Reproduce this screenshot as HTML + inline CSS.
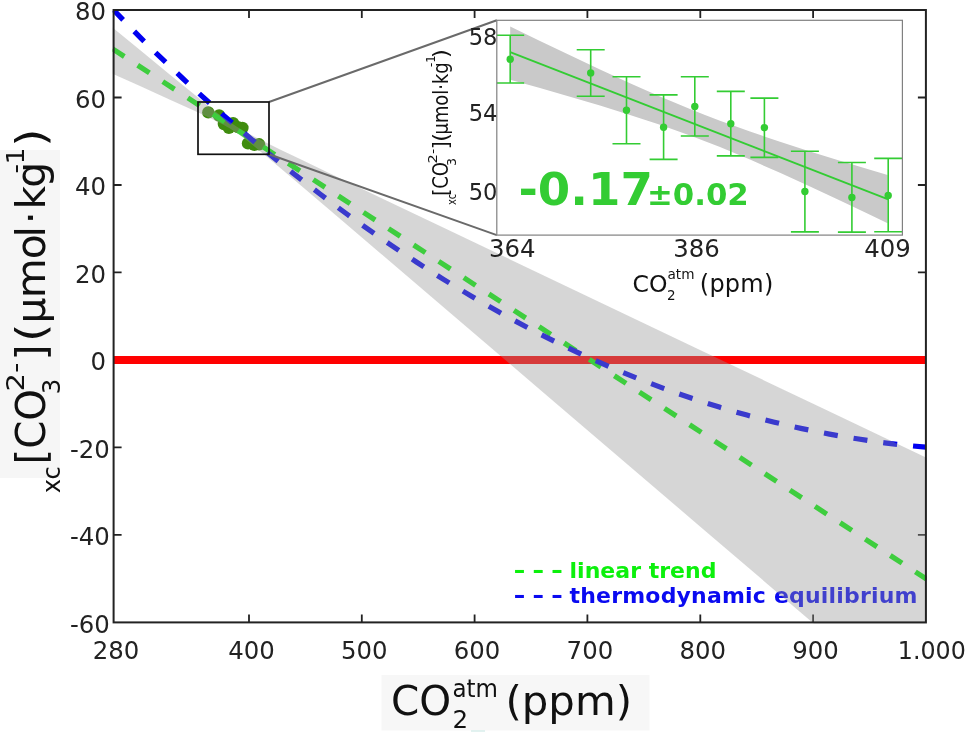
<!DOCTYPE html>
<html lang="en"><head><meta charset="utf-8"><title>CO3 trend versus atmospheric CO2</title>
<style>
html,body{margin:0;padding:0;background:#fff;}
body{width:968px;height:734px;overflow:hidden;}
svg{display:block;will-change:transform;}
text{font-family:"DejaVu Sans", "Liberation Sans", sans-serif;fill:#222;}
.b{font-weight:bold;}
</style></head><body>
<svg width="968" height="734" viewBox="0 0 968 734">
<rect width="968" height="734" fill="#ffffff"/>
<rect x="0" y="150" width="60" height="328" fill="#f6f6f6"/>
<rect x="381.5" y="675" width="268" height="55.5" fill="#f7f7f7"/>
<rect x="471" y="730.4" width="14" height="1.2" fill="#cfe9e6"/>
<defs><clipPath id="cm"><rect x="112.6" y="9.0" width="814.3" height="614.4"/></clipPath>
<clipPath id="ci"><rect x="496.8" y="20.3" width="405.6" height="214.8"/></clipPath></defs>
<path d="M249.0,622.4 v-8 M249.0,10.0 v8 M361.8,622.4 v-8 M361.8,10.0 v8 M474.6,622.4 v-8 M474.6,10.0 v8 M587.4,622.4 v-8 M587.4,10.0 v8 M700.3,622.4 v-8 M700.3,10.0 v8 M813.1,622.4 v-8 M813.1,10.0 v8 M113.6,97.5 h8 M925.9,97.5 h-8 M113.6,185.0 h8 M925.9,185.0 h-8 M113.6,272.4 h8 M925.9,272.4 h-8 M113.6,359.9 h8 M925.9,359.9 h-8 M113.6,447.4 h8 M925.9,447.4 h-8 M113.6,534.9 h8 M925.9,534.9 h-8" stroke="#222" stroke-width="1.8" fill="none"/>
<rect x="113.6" y="356" width="812.3" height="8" fill="#ff0000"/>
<g fill="#3f8c0e">
<circle cx="208.3" cy="112.4" r="6.2"/>
<circle cx="219.1" cy="115.5" r="6.2"/>
<circle cx="223.9" cy="124.0" r="6.2"/>
<circle cx="228.9" cy="127.9" r="6.2"/>
<circle cx="233.1" cy="123.2" r="6.2"/>
<circle cx="237.9" cy="127.1" r="6.2"/>
<circle cx="242.4" cy="128.0" r="6.2"/>
<circle cx="248.0" cy="143.4" r="6.2"/>
<circle cx="254.3" cy="144.8" r="6.2"/>
<circle cx="259.1" cy="144.3" r="6.2"/>
</g>
<path clip-path="url(#cm)" d="M112.6,48.9 L926.9,579.3" stroke="#08f008" stroke-width="5.2" stroke-dasharray="14 15.94" fill="none"/>
<g clip-path="url(#cm)" fill="none" stroke-width="5.2" stroke-dasharray="14 16">
<path d="M113.4,9.8 L127.2,24.1 L140.9,38.1 L154.7,51.7 L168.5,65.0 L182.3,78.0 L196.0,90.7 L209.8,103.2 L223.6,115.4 L237.3,127.3 L251.1,139.0 L264.9,150.4 L278.7,161.7 L292.4,172.7 L306.2,183.4 L320.0,194.0 L333.7,204.4 L347.5,214.5 L361.3,224.4 L375.1,234.1 L388.8,243.6 L402.6,252.9 L416.4,262.0 L430.1,270.9 L443.9,279.6 L457.7,288.0 L471.5,296.2 L485.2,304.3 L499.0,312.1 L512.8,319.7 L526.5,327.0 L540.3,334.2 L554.1,341.1 L567.8,347.8 L581.6,354.3 L595.4,360.6 L609.2,366.6 L622.9,372.4 L636.7,378.1 L650.5,383.4 L664.2,388.6 L678.0,393.6 L691.8,398.3 L705.6,402.8 L719.3,407.1 L733.1,411.2 L746.9,415.1 L760.6,418.8 L774.4,422.2 L788.2,425.5 L802.0,428.6 L815.7,431.4 L829.5,434.1 L843.3,436.6 L857.0,438.8 L870.8,440.9 L884.6,442.8 L898.4,444.5 L912.1,445.9 L925.9,447.2" stroke="#0000f0"/>
</g>
<g class="b" font-size="22" font-weight="bold">
<text y="578.2" fill="#0cf00c" style="fill:#0cf00c"><tspan x="513.6" textLength="12" lengthAdjust="spacingAndGlyphs">-</tspan><tspan x="532.3" textLength="12" lengthAdjust="spacingAndGlyphs">-</tspan><tspan x="551" textLength="12" lengthAdjust="spacingAndGlyphs">-</tspan><tspan x="569.5" textLength="147">linear trend</tspan></text>
<text y="603.3" style="fill:#0a0af0"><tspan x="513.6" textLength="12" lengthAdjust="spacingAndGlyphs">-</tspan><tspan x="532.3" textLength="12" lengthAdjust="spacingAndGlyphs">-</tspan><tspan x="551" textLength="12" lengthAdjust="spacingAndGlyphs">-</tspan><tspan x="569.5" textLength="348">thermodynamic equilibrium</tspan></text>
</g>
<polygon clip-path="url(#cm)" points="112.5,27.4 140.0,50.1 170.0,74.7 195.0,95.1 210.0,107.2 222.0,116.5 230.0,122.3 238.0,127.5 246.0,132.2 255.0,136.9 265.0,142.0 280.0,149.4 300.0,159.0 330.0,173.5 380.0,197.4 450.0,230.8 550.0,278.4 700.0,349.9 830.0,411.8 927.0,458.0 927.0,720.4 830.0,637.5 700.0,526.4 550.0,398.2 450.0,312.7 380.0,252.9 330.0,210.3 300.0,184.7 280.0,167.8 265.0,155.2 255.0,146.9 246.0,139.7 238.0,133.7 230.0,128.5 222.0,124.1 210.0,118.1 195.0,111.1 170.0,99.7 140.0,86.1 112.5,73.8" fill="#969696" fill-opacity="0.39"/>
<rect x="113.6" y="10.0" width="812.3" height="612.4" fill="none" stroke="#222" stroke-width="2"/>
<path d="M269.0,102.0 L496.8,20.3 M269.0,154.3 L496.8,235.1" stroke="#6a6a6a" stroke-width="2" fill="none"/>
<rect x="198.0" y="102.0" width="71.0" height="52.3" fill="none" stroke="#111" stroke-width="1.7"/>
<rect x="496.8" y="20.3" width="405.6" height="214.8" fill="#ffffff"/>
<g clip-path="url(#ci)">
<polygon points="510.2,26.6 540.0,41.0 570.0,55.3 600.0,69.5 630.0,83.2 660.0,96.5 690.0,109.0 705.0,115.0 720.0,120.7 750.0,131.6 780.0,141.8 810.0,151.5 840.0,160.8 870.0,169.8 887.6,175.1 887.6,223.2 870.0,214.8 840.0,200.5 810.0,186.5 780.0,172.8 750.0,159.6 720.0,147.1 705.0,141.2 690.0,135.4 660.0,124.8 630.0,114.9 600.0,105.6 570.0,96.7 540.0,88.1 510.2,79.7" fill="#c9c9c9"/>
<path d="M510.2,52.1 L888.2,199.4" stroke="#33cc33" stroke-width="1.9" fill="none"/>
<path d="M510.2,35.3 V83.0 M496.2,35.3 h28 M496.2,83.0 h28 M590.7,49.8 V96.3 M576.7,49.8 h28 M576.7,96.3 h28 M626.5,76.7 V143.8 M612.5,76.7 h28 M612.5,143.8 h28 M663.6,94.9 V159.4 M649.6,94.9 h28 M649.6,159.4 h28 M694.8,76.8 V136.0 M680.8,76.8 h28 M680.8,136.0 h28 M730.8,91.4 V155.9 M716.8,91.4 h28 M716.8,155.9 h28 M764.4,98.1 V157.4 M750.4,98.1 h28 M750.4,157.4 h28 M804.9,151.2 V231.9 M790.9,151.2 h28 M790.9,231.9 h28 M851.9,162.5 V232.1 M837.9,162.5 h28 M837.9,232.1 h28 M888.2,158.4 V231.7 M874.2,158.4 h28 M874.2,231.7 h28" stroke="#33cc33" stroke-width="1.6" fill="none"/>
<g fill="#33cc33">
<circle cx="510.2" cy="59.3" r="3.7"/>
<circle cx="590.7" cy="72.9" r="3.7"/>
<circle cx="626.5" cy="110.2" r="3.7"/>
<circle cx="663.6" cy="127.3" r="3.7"/>
<circle cx="694.8" cy="106.5" r="3.7"/>
<circle cx="730.8" cy="123.8" r="3.7"/>
<circle cx="764.4" cy="127.6" r="3.7"/>
<circle cx="804.9" cy="191.5" r="3.7"/>
<circle cx="851.9" cy="197.5" r="3.7"/>
<circle cx="888.2" cy="195.4" r="3.7"/>
</g></g>
<rect x="496.8" y="20.3" width="405.6" height="214.8" fill="none" stroke="#808080" stroke-width="1.2"/>
<text class="b" y="205" style="fill:#33cc33" font-weight="bold"><tspan x="518.5" font-size="44.6" textLength="134.5" lengthAdjust="spacingAndGlyphs">-0.17</tspan><tspan x="647" font-size="30.8">±0.02</tspan></text>
<g font-size="24.4" text-anchor="end">
<text x="106" y="20.4">80</text>
<text x="106" y="107.9">60</text>
<text x="106" y="195.4">40</text>
<text x="106" y="282.8">20</text>
<text x="106" y="370.3">0</text>
<text x="109.8" y="457.8">-20</text>
<text x="109.8" y="545.3">-40</text>
<text x="109.8" y="632.8">-60</text>
</g>
<g font-size="24.4" text-anchor="middle">
<text x="116.1" y="659.2">280</text>
<text x="251.5" y="659.2">400</text>
<text x="364.3" y="659.2">500</text>
<text x="477.1" y="659.2">600</text>
<text x="589.9" y="659.2">700</text>
<text x="702.8" y="659.2">800</text>
<text x="815.6" y="659.2">900</text>
<text x="931.8" y="658.5" textLength="68" lengthAdjust="spacingAndGlyphs">1.000</text>
</g>
<g font-size="22.6" text-anchor="end">
<text x="497.4" y="45.1">58</text>
<text x="497.4" y="120.5">54</text>
<text x="497.4" y="200.1">50</text>
</g>
<g font-size="24.4" text-anchor="middle">
<text x="512.3" y="257.2">364</text>
<text x="696.6" y="257.2">386</text>
<text x="887.5" y="257.2">409</text>
</g>
<text x="391" y="714.5" font-size="40.5" style="fill:#111">CO</text>
<text x="452.5" y="727.6" font-size="24.5" style="fill:#111">2</text>
<text x="452.5" y="696.5" font-size="24.5" style="fill:#111" textLength="45.5" lengthAdjust="spacingAndGlyphs">atm</text>
<text x="505.5" y="714.5" font-size="40.5" style="fill:#111" textLength="126.5" lengthAdjust="spacingAndGlyphs">(ppm)</text>
<text x="632.5" y="291.6" font-size="23.5" style="fill:#111">CO</text>
<text x="667" y="299.5" font-size="13.5" style="fill:#111">2</text>
<text x="667.5" y="279.3" font-size="14.8" style="fill:#111" textLength="27" lengthAdjust="spacingAndGlyphs">atm</text>
<text x="699.8" y="291.6" font-size="24" style="fill:#111" textLength="73.5">(ppm)</text>
<text transform="translate(60.3,493.2) rotate(-90)" font-size="24" textLength="27" lengthAdjust="spacingAndGlyphs" style="fill:#111">xc</text>
<text transform="translate(44.7,464.5) rotate(-90)" font-size="41" textLength="75.5" lengthAdjust="spacingAndGlyphs" style="fill:#111">[CO</text>
<text transform="translate(60.3,394.2) rotate(-90)" font-size="24.5" style="fill:#111">3</text>
<text transform="translate(24.3,391.5) rotate(-90)" font-size="24.5" textLength="29" lengthAdjust="spacingAndGlyphs" style="fill:#111">2-</text>
<text transform="translate(44.7,360.4) rotate(-90)" font-size="41" style="fill:#111">]</text>
<text transform="translate(44.7,341.9) rotate(-90)" font-size="41" textLength="18.4" lengthAdjust="spacingAndGlyphs" style="fill:#111">(</text>
<text transform="translate(44.7,323.6) rotate(-90)" font-size="41" style="fill:#111" dx="0 -0.8 -0.9 -3.4 2 1.5 -1.8">µmol·kg</text>
<text transform="translate(24.3,173.6) rotate(-90)" font-size="24.5" textLength="26" lengthAdjust="spacingAndGlyphs" style="fill:#111">-1</text>
<text transform="translate(44.7,146.7) rotate(-90)" font-size="41" textLength="18.4" lengthAdjust="spacingAndGlyphs" style="fill:#111">)</text>
<text transform="translate(456.3,204.9) rotate(-90)" font-size="12.5" textLength="11.1" lengthAdjust="spacingAndGlyphs" style="fill:#111">xc</text>
<text transform="translate(448.2,195.8) rotate(-90)" font-size="20.5" textLength="33.9" lengthAdjust="spacingAndGlyphs" style="fill:#111">[CO</text>
<text transform="translate(456.3,166) rotate(-90)" font-size="12.5" style="fill:#111">3</text>
<text transform="translate(437.3,163.4) rotate(-90)" font-size="12.5" textLength="14.7" lengthAdjust="spacingAndGlyphs" style="fill:#111">2-</text>
<text transform="translate(448.2,149.2) rotate(-90)" font-size="20.5" style="fill:#111">]</text>
<text transform="translate(448.2,142) rotate(-90)" font-size="20.5" textLength="9.2" lengthAdjust="spacingAndGlyphs" style="fill:#111">(</text>
<text transform="translate(448.2,134.5) rotate(-90)" font-size="20.5" textLength="72.2" lengthAdjust="spacingAndGlyphs" style="fill:#111">µmol·kg</text>
<text transform="translate(435.4,67) rotate(-90)" font-size="12.5" textLength="11.6" lengthAdjust="spacingAndGlyphs" style="fill:#111">-1</text>
<text transform="translate(448.2,58.2) rotate(-90)" font-size="20.5" textLength="9.2" lengthAdjust="spacingAndGlyphs" style="fill:#111">)</text>
</svg></body></html>
